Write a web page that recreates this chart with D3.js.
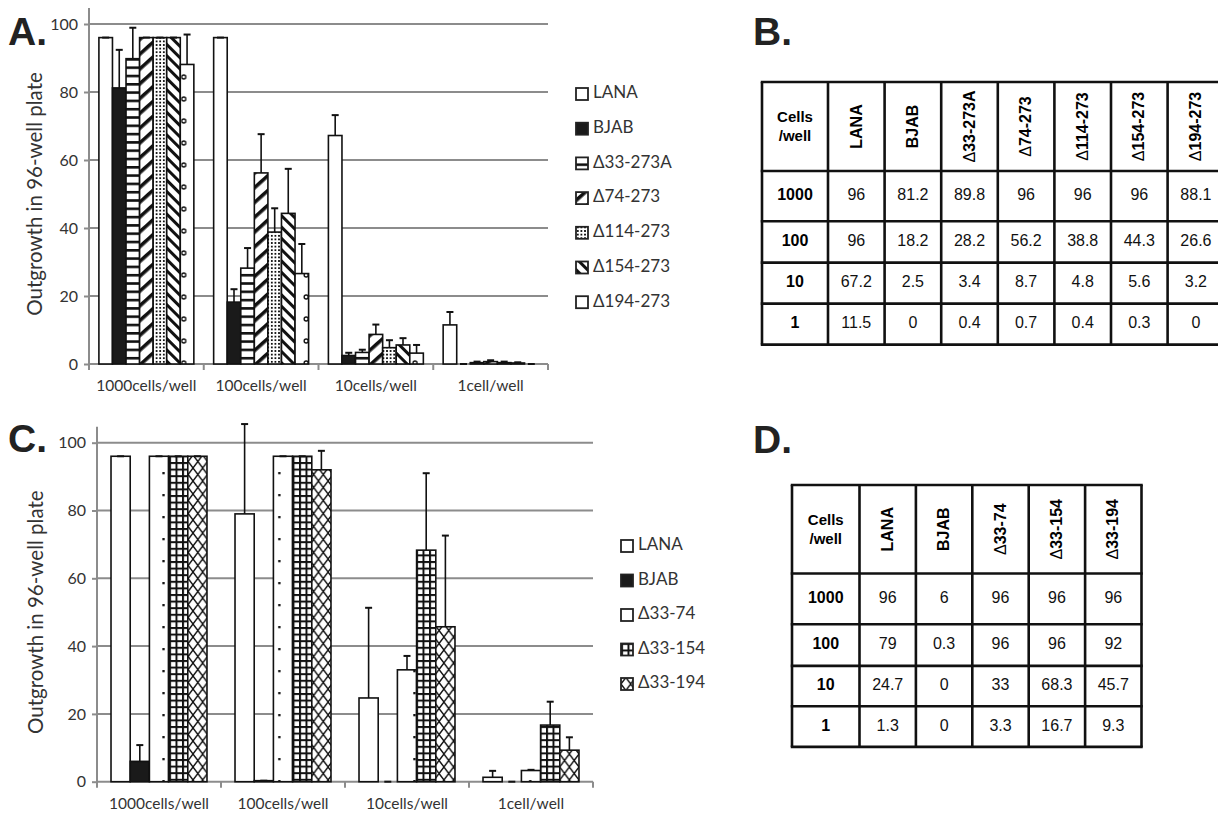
<!DOCTYPE html>
<html>
<head>
<meta charset="utf-8">
<script src="https://cdn.jsdelivr.net/npm/d3@7"></script>
<style>
body{margin:0;background:#fff}
svg{display:block}
</style>
</head>
<body>
<script>
// x categories and row labels
var groups = ['1000cells/well', '100cells/well', '10cells/well', '1cell/well'];
var rowLabels = ['1000', '100', '10', '1'];
var yTicks = [0, 20, 40, 60, 80, 100];

var seriesA = ['LANA', 'BJAB', '\u039433-273A', '\u039474-273', '\u0394114-273', '\u0394154-273', '\u0394194-273'];
var a_lana = [96, 96, 67.2, 11.5],   a_lanaErr = [0, 0, 6, 3.8];
var a_bjab = [81.2, 18.2, 2.5, 0],   a_bjabErr = [11.2, 3.8, 0.8, 0];
var a_d33 = [89.8, 28.2, 3.4, 0.4],  a_d33Err = [9.1, 5.9, 0.8, 0.3];
var a_d74 = [96, 56.2, 8.7, 0.7],    a_d74Err = [0, 11.4, 2.9, 0.4];
var a_d114 = [96, 38.8, 4.8, 0.4],   a_d114Err = [0, 7, 2.2, 0.3];
var a_d154 = [96, 44.3, 5.6, 0.3],   a_d154Err = [0, 13.1, 2, 0.2];
var a_d194 = [88.1, 26.6, 3.2, 0],   a_d194Err = [8.8, 8.7, 2.4, 0];

// panel C/D series
var seriesC = ['LANA', 'BJAB', '\u039433-74', '\u039433-154', '\u039433-194'];
var c_lana = [96, 79, 24.7, 1.3],    c_lanaErr = [0, 26.5, 26.6, 1.9];
var c_bjab = [6, 0.3, 0, 0],         c_bjabErr = [4.8, 0, 0, 0];
var c_d74 = [96, 96, 33, 3.3],       c_d74Err = [0, 0, 4.1, 0.2];
var c_d154 = [96, 96, 68.3, 16.7],   c_d154Err = [0, 0, 22.7, 6.9];
var c_d194 = [96, 92, 45.7, 9.3],    c_d194Err = [0, 5.6, 26.9, 3.8];

var valsA = [a_lana, a_bjab, a_d33, a_d74, a_d114, a_d154, a_d194];
var errsA = [a_lanaErr, a_bjabErr, a_d33Err, a_d74Err, a_d114Err, a_d154Err, a_d194Err];
var valsC = [c_lana, c_bjab, c_d74, c_d154, c_d194];
var errsC = [c_lanaErr, c_bjabErr, c_d74Err, c_d154Err, c_d194Err];

var fillsA = ['#fff', '#1a1a1a', 'url(#p-h)', 'url(#p-up)', 'url(#p-dots)', 'url(#p-down)', 'url(#p-c)'];
var fillsC = ['#fff', '#1a1a1a', 'url(#p-sdots)', 'url(#p-grid)', 'url(#p-x)'];

var svg = d3.select('body').append('svg').attr('width', 1218).attr('height', 814);
var defs = svg.append('defs');

function pattern(id, w, h, tr) {
    var p = defs.append('pattern').attr('id', id).attr('patternUnits', 'userSpaceOnUse')
        .attr('width', w).attr('height', h);
    if (tr) p.attr('patternTransform', tr);
    p.append('rect').attr('width', w).attr('height', h).attr('fill', '#fff');
    return p;
}
pattern('p-h', 8, 8.3).append('rect').attr('width', 8).attr('height', 2.6).attr('fill', '#111');
pattern('p-up', 8, 11, 'rotate(-42)').append('rect').attr('width', 8).attr('height', 3.6).attr('fill', '#111');
var pd = pattern('p-dots', 3.6, 3.6);
pd.append('rect').attr('x', 0.9).attr('y', 0.9).attr('width', 1.8).attr('height', 1.8).attr('fill', '#111');
pattern('p-down', 8, 8, 'rotate(45)').append('rect').attr('width', 8).attr('height', 3).attr('fill', '#111');
pattern('p-c', 13.6, 22).append('circle').attr('cx', 7).attr('cy', 11).attr('r', 2)
    .attr('fill', 'none').attr('stroke', '#111').attr('stroke-width', 1.4);
pattern('p-sdots', 19.3, 22).append('rect').attr('x', 8).attr('y', 10).attr('width', 2.3).attr('height', 2.3).attr('fill', '#111');
var pg = pattern('p-grid', 6.5, 6.6);
pg.append('rect').attr('width', 6.5).attr('height', 2).attr('fill', '#111');
pg.append('rect').attr('width', 2).attr('height', 6.6).attr('fill', '#111');
pattern('p-x', 9.65, 13).append('path').attr('d', 'M0,0L9.65,13M9.65,0L0,13')
    .attr('stroke', '#111').attr('stroke-width', 1.4).attr('fill', 'none');

var axisFont = 'Lato, "Open Sans", sans-serif';
var gridColor = '#8c8c8c';

function barChart(o) {
    var g = svg.append('g');
    var x0 = d3.scaleBand().domain(groups).range([o.left, o.right]).padding(0);
    var x1 = d3.scaleBand().domain(d3.range(o.series.length)).range([0, x0.bandwidth()])
        .paddingInner(0).paddingOuter(0.73);
    var y = d3.scaleLinear().domain([0, 100]).range([o.bottom, o.top]);

    // gridlines
    g.selectAll('.grid').data(yTicks.slice(1)).enter().append('line')
        .attr('x1', o.left).attr('x2', o.right)
        .attr('y1', d => y(d)).attr('y2', d => y(d))
        .attr('stroke', gridColor).attr('stroke-width', 2);

    // y axis
    var yAxis = d3.axisLeft(y).tickValues(yTicks).tickSize(5).tickPadding(6);
    var ya = g.append('g').attr('transform', `translate(${o.left},0)`).call(yAxis);
    ya.select('.domain').remove();
    ya.selectAll('line').attr('stroke', gridColor).attr('stroke-width', 2);
    ya.selectAll('text').attr('font-family', axisFont).attr('font-size', 16).attr('fill', '#333');
    g.append('line').attr('x1', o.left).attr('x2', o.left)
        .attr('y1', y(0)).attr('y2', y(104.7))
        .attr('stroke', gridColor).attr('stroke-width', 2);

    // x axis with boundary ticks
    g.append('line').attr('x1', o.left).attr('x2', o.right)
        .attr('y1', y(0)).attr('y2', y(0)).attr('stroke', gridColor).attr('stroke-width', 2);
    var bounds = groups.map(d => x0(d)).concat([o.right]);
    g.selectAll('.xt').data(bounds).enter().append('line')
        .attr('x1', d => d).attr('x2', d => d)
        .attr('y1', y(0)).attr('y2', y(0) + 6)
        .attr('stroke', gridColor).attr('stroke-width', 2);
    g.selectAll('.xl').data(groups).enter().append('text')
        .attr('x', d => x0(d) + x0.bandwidth() / 2).attr('y', o.labelY)
        .attr('text-anchor', 'middle').attr('dominant-baseline', 'middle')
        .attr('font-family', axisFont).attr('font-size', 15.5).attr('fill', '#333')
        .text(d => d);

    // y title
    g.append('text')
        .attr('transform', `translate(${o.titleX},${(y(0) + y(100)) / 2}) rotate(-90)`)
        .attr('text-anchor', 'middle').attr('dominant-baseline', 'middle')
        .attr('font-family', axisFont).attr('font-size', 20.5).attr('fill', '#333')
        .text('Outgrowth in 96-well plate');

    // bars + error bars
    o.series.forEach(function (s, si) {
        var rows = groups.map((gname, gi) => ({g: gname, v: o.vals[si][gi], e: o.errs[si][gi]}));
        var sg = g.append('g');
        sg.selectAll('rect').data(rows).enter().append('rect')
            .attr('x', d => x0(d.g) + x1(si)).attr('width', x1.bandwidth())
            .attr('y', d => y(d.v)).attr('height', d => y(0) - y(d.v))
            .attr('fill', o.fills[si]).attr('stroke', '#111').attr('stroke-width', 1.6);
        var eg = sg.selectAll('.err').data(rows).enter().append('g');
        eg.append('line')
            .attr('x1', d => x0(d.g) + x1(si) + x1.bandwidth() / 2)
            .attr('x2', d => x0(d.g) + x1(si) + x1.bandwidth() / 2)
            .attr('y1', d => y(d.v)).attr('y2', d => y(d.v + d.e))
            .attr('stroke', '#111').attr('stroke-width', 1.6);
        eg.append('line')
            .attr('x1', d => x0(d.g) + x1(si) + x1.bandwidth() / 2 - 3.5)
            .attr('x2', d => x0(d.g) + x1(si) + x1.bandwidth() / 2 + 3.5)
            .attr('y1', d => y(d.v + d.e)).attr('y2', d => y(d.v + d.e))
            .attr('stroke', '#111').attr('stroke-width', 2);
    });

    // legend
    var ly = d3.scalePoint().domain(o.series).range([o.legY, o.legY + o.legStep * (o.series.length - 1)]);
    var lg = g.selectAll('.leg').data(o.series).enter().append('g')
        .attr('transform', d => `translate(${o.legX},${ly(d)})`);
    lg.append('rect').attr('x', 0).attr('y', -6).attr('width', 12).attr('height', 12)
        .attr('fill', (d, i) => o.fills[i]).attr('stroke', '#222').attr('stroke-width', 1.8);
    lg.append('text').attr('x', 17).attr('y', 0).attr('dominant-baseline', 'middle')
        .attr('font-family', axisFont).attr('font-size', 17).attr('fill', '#333')
        .text(d => d);
}

barChart({series: seriesA, vals: valsA, errs: errsA, fills: fillsA,
    left: 89, right: 548, top: 24, bottom: 364, labelY: 387, titleX: 37,
    legX: 576, legY: 94, legStep: 34.7});
barChart({series: seriesC, vals: valsC, errs: errsC, fills: fillsC,
    left: 97, right: 593, top: 442.7, bottom: 781.7, labelY: 805, titleX: 38,
    legX: 621, legY: 546, legStep: 34.5});

// tables
var tableFont = '"Liberation Sans", Arial, sans-serif';
function table(o) {
    var g = svg.append('g');
    var cx = d3.scaleBand().domain(o.series).range([o.colStart, o.colStart + o.colW * o.series.length]);
    var rowEdges = [o.top, o.top + o.headH];
    o.rowH.forEach(h => rowEdges.push(rowEdges[rowEdges.length - 1] + h));
    var right = cx.range()[1];
    // horizontal rules
    g.selectAll('.hr').data(rowEdges).enter().append('line')
        .attr('x1', o.left - 1.25).attr('x2', right + 1.25)
        .attr('y1', d => d).attr('y2', d => d)
        .attr('stroke', '#111').attr('stroke-width', 2.6);
    var colEdges = [o.left].concat(o.series.map(s => cx(s))).concat([right]);
    g.selectAll('.vr').data(colEdges).enter().append('line')
        .attr('x1', d => d).attr('x2', d => d)
        .attr('y1', o.top).attr('y2', rowEdges[rowEdges.length - 1])
        .attr('stroke', '#111').attr('stroke-width', 2.6);
    // header
    var hx = (o.left + o.colStart) / 2, hy = o.top + o.headH / 2;
    g.append('text').attr('x', hx).attr('y', hy - 8).attr('text-anchor', 'middle')
        .attr('dominant-baseline', 'middle').attr('font-family', tableFont)
        .attr('font-weight', 'bold').attr('font-size', 15).text('Cells');
    g.append('text').attr('x', hx).attr('y', hy + 11).attr('text-anchor', 'middle')
        .attr('dominant-baseline', 'middle').attr('font-family', tableFont)
        .attr('font-weight', 'bold').attr('font-size', 15).text('/well');
    var ht = g.selectAll('.ht').data(o.series).enter().append('text')
        .attr('transform', d => `translate(${cx(d) + cx.bandwidth() / 2 + 1},${hy}) rotate(-90)`)
        .attr('text-anchor', 'middle').attr('dominant-baseline', 'middle')
        .attr('font-family', tableFont).attr('font-weight', 'bold').attr('font-size', 16);
    ht.each(function (d) {
        var t = d3.select(this);
        if (d.charAt(0) === '\u0394') {
            t.append('tspan').attr('font-weight', 'normal').text('\u0394');
            t.append('tspan').text(d.slice(1));
        } else t.text(d);
    });
    // body
    rowLabels.forEach(function (r, ri) {
        var cy = (rowEdges[ri + 1] + rowEdges[ri + 2]) / 2;
        g.append('text').attr('x', hx).attr('y', cy).attr('text-anchor', 'middle')
            .attr('dominant-baseline', 'middle').attr('font-family', tableFont)
            .attr('font-weight', 'bold').attr('font-size', 16).text(r);
        g.selectAll('.c' + ri).data(o.series).enter().append('text')
            .attr('x', d => cx(d) + cx.bandwidth() / 2).attr('y', cy)
            .attr('text-anchor', 'middle').attr('dominant-baseline', 'middle')
            .attr('font-family', tableFont).attr('font-size', 16).attr('fill', '#111')
            .text((d, si) => o.vals[si][ri]);
    });
}
table({series: seriesA, vals: valsA, left: 762, colStart: 828, colW: 56.6,
    top: 82, headH: 89, rowH: [50.3, 41.3, 41, 41]});
table({series: seriesC, vals: valsC, left: 792, colStart: 859.5, colW: 56.4,
    top: 485, headH: 88.5, rowH: [50.7, 41.7, 40.3, 40.7]});

// panel letters
var letters = [['A.', 8, 45], ['B.', 753, 45], ['C.', 8, 452], ['D.', 753, 453]];
svg.selectAll('.lt').data(letters).enter().append('text')
    .attr('x', d => d[1]).attr('y', d => d[2])
    .attr('font-family', tableFont).attr('font-weight', 'bold').attr('font-size', 39)
    .attr('fill', '#222').text(d => d[0]);
</script>
</body>
</html>
